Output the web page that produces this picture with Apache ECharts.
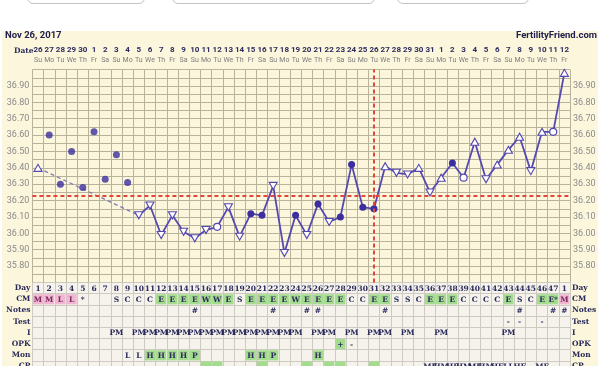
<!DOCTYPE html>
<html><head><meta charset="utf-8">
<script src="https://cdn.jsdelivr.net/npm/echarts@6/dist/echarts.min.js"></script>
<style>
html,body{margin:0;padding:0;background:#fff;overflow:hidden;}
#wrap{position:relative;width:600px;height:366px;overflow:hidden;background:#fff;}
#bg{position:absolute;left:2px;top:31px;width:596px;height:335px;background:#fbf6dc;}
.btn{position:absolute;top:-20px;height:22px;border:1px solid #c4c4c4;border-radius:6px;background:#fff;}
#chart{position:absolute;left:0;top:0;width:600px;height:380px;}
</style></head>
<body><div id="wrap"><div id="bg"></div>
<div class="btn" style="left:27px;width:116px"></div>
<div class="btn" style="left:172px;width:201px"></div>
<div class="btn" style="left:397px;width:130px"></div>
<div id="chart"></div></div>
<script>
const dates = ['26','27','28','29','30','1','2','3','4','5','6','7','8','9','10','11','12','13','14','15','16','17','18','19','20','21','22','23','24','25','26','27','28','29','30','31','1','2','3','4','5','6','7','8','9','10','11','12'];
const weekdays = ['Su','Mo','Tu','We','Th','Fr','Sa','Su','Mo','Tu','We','Th','Fr','Sa','Su','Mo','Tu','We','Th','Fr','Sa','Su','Mo','Tu','We','Th','Fr','Sa','Su','Mo','Tu','We','Th','Fr','Sa','Su','Mo','Tu','We','Th','Fr','Sa','Su','Mo','Tu','We','Th','Fr'];
const cycleDays = ['1','2','3','4','5','6','7','8','9','10','11','12','13','14','15','16','17','18','19','20','21','22','23','24','25','26','27','28','29','30','31','32','33','34','35','36','37','38','39','40','41','42','43','44','45','46','47','1'];
const temps = [36.40,36.60,36.30,36.50,36.28,36.62,36.33,36.48,36.31,36.11,36.17,35.99,36.11,36.01,35.97,36.02,36.04,36.16,35.98,36.12,36.11,36.29,35.88,36.11,35.99,36.18,36.07,36.10,36.42,36.16,36.15,36.41,36.37,36.36,36.40,36.25,36.34,36.43,36.34,36.56,36.33,36.42,36.51,36.59,36.38,36.62,36.62,36.98];
const marks = ['up','dot','dot','dot','dot','dot','dot','dot','dot','down','down','down','down','down','down','down','open','down','down','dot','dot','down','down','dot','down','dot','down','dot','dot','dot','dot','up','down','down','up','down','up','dot','open','up','down','up','up','up','down','up','open','up'];
const discardedDays = [2,3,4,5,6,7,8,9];
const coverline = 36.23;
const ovulationDay = 31;
const rowNames = ['Day','CM','Notes','Test','I','OPK','Mon','CP'];
const cm = ['M','M','L','L','*','','','S','C','C','C','E','E','E','E','W','W','E','S','E','E','E','E','W','E','E','E','E','C','C','E','E','S','S','C','E','E','E','C','C','C','C','E','S','C','E','E*','M'];
const notes = ['','','','','','','','','','','','','','','#','','','','','','','#','','','#','#','','','','','','#','','','','','','','','','','','','#','','','#','#'];
const tests = ['','','','','','','','','','','','','','','','','','','','','','','','','','','','','','','','','','','','','','','','','','','-','-','','-','',''];
const intercourse = ['','','','','','','','PM','','PM','PM','PM','PM','PM','PM','PM','PM','PM','PM','PM','PM','PM','PM','PM','','PM','PM','','PM','','PM','PM','','PM','','','PM','','','','','','PM','','','','',''];
const opk = ['','','','','','','','','','','','','','','','','','','','','','','','','','','','+','-','','','','','','','','','','','','','','','','','','',''];
const mon = ['','','','','','','','','L','L','H','H','H','H','P','','','','','H','H','P','','','','H','','','','','','','','','','','','','','','','','','','','','',''];
const cp = ['','','','','','','','','','','','','','','','','','','','','','','','','','','','','','','','','','','','MF','HM','HF','HM','MF','HM','HF','LL','HF','','MF',''];
const cpGreen = [16,17,21,25,27,28,31];

const NAVY = '#2b2a5c';
const GREEN = '#a4dc8e';
const bgFor = (row, t, col) => {
  if (row === 1) { if (t === 'M' || t === 'L') return '#f0b6d2'; if (t[0] === 'E' || t === 'W') return GREEN; }
  if (row === 5 && t === '+') return GREEN;
  if (row === 6 && (t === 'H' || t === 'P')) return GREEN;
  if (row === 7 && cpGreen.includes(col + 1)) return GREEN;
  return null;
};
const rows = [cycleDays, cm, notes, tests, intercourse, opk, mon, cp];
const cells = [];
rows.forEach((arr, r) => arr.forEach((t, c) => {
  const bg = bgFor(r, t, c);
  if (t === '' && !bg) return;
  cells.push({ value: [c, r], text: t, bg: bg, color: (r === 1 && (t === 'M' || t === 'L')) ? '#7a2a5e' : NAVY });
}));

const idx = dates.map((d, i) => String(i));
const styleFor = (m) => {
  if (m === 'dot') return { symbol: 'circle', symbolSize: 7, itemStyle: { color: '#3b2e9e', borderColor: '#3b2e9e', borderWidth: 0 } };
  if (m === 'open') return { symbol: 'circle', symbolSize: 7, itemStyle: { color: '#fff', borderColor: '#5548b0', borderWidth: 1.2 } };
  return { symbol: 'triangle', symbolSize: [8, 7], symbolRotate: m === 'down' ? 180 : 0, itemStyle: { color: '#fff', borderColor: '#5548b0', borderWidth: 1.1 } };
};
const mainData = temps.map((v, i) => (i < 9) ? null : Object.assign({ value: v }, styleFor(marks[i])));
const dashData = temps.map((v, i) => (i === 0 || i === 9) ? v : null);
const firstData = temps.map((v, i) => i === 0 ? Object.assign({ value: v }, styleFor(marks[i])) : null);
const discData = temps.map((v, i) => discardedDays.includes(i + 1) ? v : null);

const L = 32.4, R = 30, T = 69.6, TB = 282.5, ROWH = 11.2;
const yFmt = v => { const c = Math.round(v * 100); return (c % 10 === 0 && c >= 3580 && c <= 3690) ? v.toFixed(2) : ''; };
const gridLine = '#b8b39b';
const tableLine = '#cdcac2';

const chart = echarts.init(document.getElementById('chart'), null, { renderer: 'canvas' });
chart.setOption({
  backgroundColor: 'transparent',
  animation: false,
  title: { text: 'Nov 26, 2017', left: 5, top: 31, padding: 0, textStyle: { fontFamily: 'Roboto', fontWeight: 'bold', fontSize: 9.5, color: '#23224f' } },
  graphic: [
    { type: 'text', right: 3, top: 31, style: { text: 'FertilityFriend.com', font: 'bold 9.5px Roboto', fill: '#23224f' } },
    { type: 'text', left: 14, top: 47, style: { text: 'Date', font: 'bold 7.5px "DejaVu Serif"', fill: NAVY } }
  ],
  grid: [
    { left: L, top: T, width: 600 - L - R, height: TB - T, show: false },
    { left: L, top: TB, width: 600 - L - R, height: ROWH * 8, show: true, backgroundColor: '#f5f3ec', borderWidth: 0 }
  ],
  xAxis: [
    { gridIndex: 0, type: 'category', data: idx, boundaryGap: true, axisLine: { show: false }, axisTick: { show: false }, axisLabel: { show: false }, splitLine: { show: true, interval: 0, lineStyle: { color: gridLine, width: 1 } } },
    { gridIndex: 0, type: 'category', data: idx, position: 'top', boundaryGap: true, axisLine: { show: false }, axisTick: { show: false }, splitLine: { show: false },
      axisLabel: { interval: 0, margin: 4, hideOverlap: false, formatter: (v, i) => '{d|' + dates[i] + '}\n{w|' + weekdays[i] + '}',
        rich: { d: { fontFamily: 'Roboto', fontWeight: 'bold', fontSize: 8, color: NAVY, lineHeight: 10.5 }, w: { fontFamily: 'Roboto', fontSize: 7, color: '#7d7d7d', lineHeight: 10 } } } },
    { gridIndex: 1, type: 'category', data: idx, boundaryGap: true, axisLine: { show: false }, axisTick: { show: false }, axisLabel: { show: false }, splitLine: { show: true, interval: 0, lineStyle: { color: tableLine, width: 1 } } }
  ],
  yAxis: [
    { gridIndex: 0, type: 'value', min: 35.7, max: 37.0, interval: 0.05, axisLine: { show: false }, axisTick: { show: false },
      splitLine: { show: true, lineStyle: { color: gridLine, width: 1 } },
      axisLabel: { formatter: yFmt, margin: 3, fontFamily: 'Roboto', fontSize: 9, color: '#8a8a8a' } },
    { gridIndex: 0, type: 'value', position: 'right', min: 35.7, max: 37.0, interval: 0.05, axisLine: { show: false }, axisTick: { show: false },
      splitLine: { show: false }, axisLabel: { formatter: yFmt, margin: 3, fontFamily: 'Roboto', fontSize: 9, color: '#8a8a8a' } },
    { gridIndex: 1, type: 'category', data: rowNames, inverse: true, axisLine: { show: false }, axisTick: { show: false },
      splitLine: { show: true, interval: 0, lineStyle: { color: tableLine, width: 1 } },
      axisLabel: { interval: 0, margin: 2, fontFamily: 'DejaVu Serif', fontWeight: 'bold', fontSize: 7.5, color: NAVY } },
    { gridIndex: 1, type: 'category', data: rowNames, inverse: true, position: 'right', axisLine: { show: false }, axisTick: { show: false },
      splitLine: { show: false },
      axisLabel: { interval: 0, margin: 2, fontFamily: 'DejaVu Serif', fontWeight: 'bold', fontSize: 7.5, color: NAVY } }
  ],
  series: [
    { type: 'line', xAxisIndex: 0, yAxisIndex: 0, data: dashData, connectNulls: true, showSymbol: false, symbol: 'none',
      lineStyle: { color: '#7d7bb3', width: 1.3, type: [4, 3] }, z: 2 },
    { type: 'line', xAxisIndex: 0, yAxisIndex: 0, data: mainData, connectNulls: false, showSymbol: true, showAllSymbol: true,
      lineStyle: { color: '#5548b0', width: 1.8 }, z: 4,
      markLine: { silent: true, symbol: 'none', label: { show: false }, animation: false,
        lineStyle: { color: '#e3453a', width: 2, type: [4, 3] },
        data: [{ yAxis: coverline }, { xAxis: ovulationDay - 1 }] } },
    { type: 'line', xAxisIndex: 0, yAxisIndex: 0, data: firstData, showSymbol: true, showAllSymbol: true, lineStyle: { width: 0 }, z: 5 },
    { type: 'scatter', xAxisIndex: 0, yAxisIndex: 0, data: discData, symbol: 'circle', symbolSize: 7, itemStyle: { color: '#3b2e9e' }, z: 5 },
    { type: 'custom', xAxisIndex: 2, yAxisIndex: 2, data: cells.map(c => c.value), z: 3,
      renderItem: (params, api) => {
        const it = cells[params.dataIndex];
        const c = api.coord([api.value(0), api.value(1)]);
        const s = api.size([1, 1]);
        const ch = [];
        if (it.bg) ch.push({ type: 'rect', shape: { x: c[0] - s[0] / 2 + 0.5, y: c[1] - s[1] / 2 + 0.5, width: s[0] - 1, height: s[1] - 1 }, style: { fill: it.bg } });
        if (it.text) ch.push({ type: 'text', style: { text: it.text, x: c[0], y: c[1] + 0.5, align: 'center', verticalAlign: 'middle', font: 'bold 7.5px "DejaVu Serif"', fill: it.color } });
        return { type: 'group', children: ch };
      } }
  ]
});
</script></body></html>
